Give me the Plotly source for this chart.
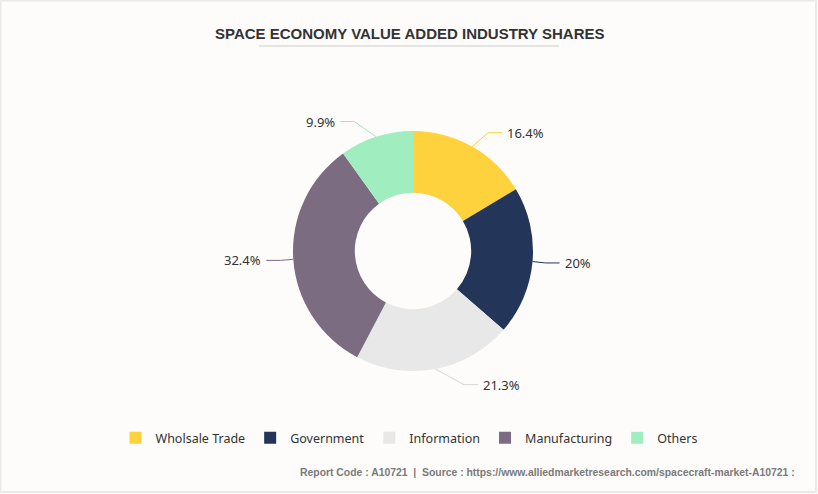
import math
import plotly.graph_objects as go

W, H = 818, 494

categories = ["Wholsale Trade", "Government", "Information", "Manufacturing", "Others"]
shares = [16.4, 20, 21.3, 32.4, 9.9]
share_labels = ["16.4%", "20%", "21.3%", "32.4%", "9.9%"]
colors = ["#FED23C", "#23365A", "#E8E8E8", "#7C6C81", "#A0EDBF"]

title_text = "SPACE ECONOMY VALUE ADDED INDUSTRY SHARES"
footer_text = ("Report Code : A10721  |  Source : "
               "https://www.alliedmarketresearch.com/spacecraft-market-A10721 :")

# pie geometry (pixels)
cx, cy, R = 413, 251, 120
hole = 0.485
LINE_R = R + 16      # radius that sets label height
TEXT_R = 150         # circle on which label text edges sit
SEG2 = 14            # horizontal part of leader line
GAP = 3              # gap between leader line and text


def px(x):
    return x / W


def py(y):
    return 1 - y / H


fig = go.Figure()
fig.add_trace(go.Pie(
    labels=categories,
    values=shares,
    marker=dict(colors=colors, line=dict(width=0)),
    hole=hole,
    sort=False,
    direction="clockwise",
    rotation=0,
    textinfo="none",
    hoverinfo="label+percent",
    domain=dict(x=[px(cx - R), px(cx + R)], y=[py(cy + R), py(cy - R)]),
))

shapes = []
annotations = []

total = sum(shares)
cum = 0.0
for v, lab, col in zip(shares, share_labels, colors):
    mid = (cum + v / 2) / total * 2 * math.pi
    cum += v
    s, c = math.sin(mid), math.cos(mid)
    side = 1 if s >= 0 else -1
    x0, y0 = cx + R * s, cy - R * c
    ly = cy - LINE_R * c
    tx = cx + side * math.sqrt(max(TEXT_R ** 2 - (ly - cy) ** 2, 0))
    x3 = tx - side * GAP
    x2 = x3 - side * SEG2
    lc = "#D6D6D6" if col == "#E8E8E8" else col
    shapes.append(dict(type="path", xref="paper", yref="paper",
                       path=f"M {px(x0)},{py(y0)} L {px(x2)},{py(ly)} L {px(x3)},{py(ly)}",
                       line=dict(color=lc, width=1)))
    annotations.append(dict(x=px(tx), y=py(ly), xref="paper", yref="paper",
                            text=lab, showarrow=False,
                            xanchor="left" if side > 0 else "right", yanchor="middle",
                            font=dict(family="Noto Sans", size=13, color="#333333")))

# title
annotations.append(dict(x=px(410), y=py(33), xref="paper", yref="paper",
                        text=f"<b>{title_text}</b>", showarrow=False,
                        xanchor="center", yanchor="middle",
                        font=dict(family="Liberation Sans", size=15, color="#333333")))
shapes.append(dict(type="line", xref="paper", yref="paper",
                   x0=px(259), x1=px(559), y0=py(46), y1=py(46),
                   line=dict(color="#CCCCCC", width=1)))

# footer
annotations.append(dict(x=px(797), y=py(472), xref="paper", yref="paper",
                        text=f"<b>{footer_text}</b>", showarrow=False,
                        xanchor="right", yanchor="middle",
                        font=dict(family="Liberation Sans", size=10.4, color="#7A7A7A")))

# frame
shapes.append(dict(type="rect", xref="paper", yref="paper",
                   x0=px(0.5), x1=px(816), y0=py(492), y1=py(0.5),
                   line=dict(color="#E9E9E9", width=2)))

fig.update_layout(
    width=W, height=H,
    margin=dict(l=0, r=0, t=0, b=0),
    paper_bgcolor="#FDFCFB",
    plot_bgcolor="#FDFCFB",
    showlegend=True,
    legend=dict(orientation="h", x=0.5, xanchor="center", y=py(438), yanchor="middle",
                font=dict(family="Noto Sans", size=12.5, color="#333333"),
                itemclick=False, itemdoubleclick=False),
    shapes=shapes,
    annotations=annotations,
)

fig.write_html(
    "out.html",
    config={"displayModeBar": False},
    post_script="document.body.style.margin='0';document.body.style.overflow='hidden';"
                "document.body.style.background='#FDFCFB';",
)
